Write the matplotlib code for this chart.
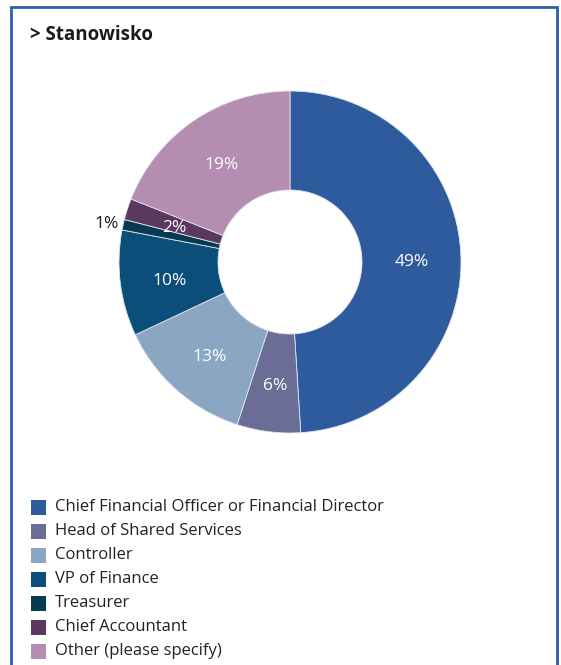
import matplotlib
matplotlib.use("Agg")
import matplotlib.pyplot as plt
from matplotlib.patches import Rectangle
import numpy as np

plt.rcParams['font.family'] = ['Open Sans', 'DejaVu Sans']

# data
labels = ['Chief Financial Officer or Financial Director', 'Head of Shared Services',
          'Controller', 'VP of Finance', 'Treasurer', 'Chief Accountant',
          'Other (please specify)']
values = [49, 6, 13, 10, 1, 2, 19]
colors = ['#2e5a9e', '#6a6e97', '#8ba6c3', '#0b4e79', '#083b52', '#5b395e', '#b58db0']

W, H = 561, 665
fig = plt.figure(figsize=(W / 100, H / 100), dpi=100)

# blue frame (bottom edge runs off the picture)
fig.patches.append(Rectangle((11 / W, -0.05), 546 / W, (H - 7) / H + 0.05,
                             transform=fig.transFigure, fill=False,
                             edgecolor='#2f5ea8', linewidth=2))

fig.text(30 / W, 1 - 35 / H, '> Stanowisko', fontsize=13.5, fontweight='bold',
         color='#1a1a1a', va='center', ha='left')

# donut
cx, cy, R = 290, 262, 171
ax = fig.add_axes([(cx - R) / W, (H - cy - R) / H, 2 * R / W, 2 * R / H])
hole = 72 / R
wedges, _ = ax.pie(values, colors=colors, startangle=90, counterclock=False,
                   radius=1, wedgeprops=dict(width=1 - hole, edgecolor='#dfe6ee',
                                             linewidth=0.6))
for w, v in zip(wedges, values):
    ang = np.deg2rad((w.theta1 + w.theta2) / 2)
    if v < 2:
        r, col = 1.1, '#1a1a1a'
    else:
        r, col = (1 + hole) / 2, 'white'
    ax.text(r * np.cos(ang), r * np.sin(ang) - 0.02, f'{v}%', ha='center',
            va='center', fontsize=12.5, color=col)
ax.set_xlim(-1, 1)
ax.set_ylim(-1, 1)

# legend
for i, (lab, col) in enumerate(zip(labels, colors)):
    y = 507 + 24 * i
    fig.patches.append(Rectangle((31 / W, 1 - (y + 7.5) / H), 15 / W, 15 / H,
                                 transform=fig.transFigure, facecolor=col,
                                 edgecolor='none'))
    fig.text(55 / W, 1 - y / H, lab, fontsize=12, color='#222222',
             va='center', ha='left')

fig.savefig('out.png', dpi=100)
